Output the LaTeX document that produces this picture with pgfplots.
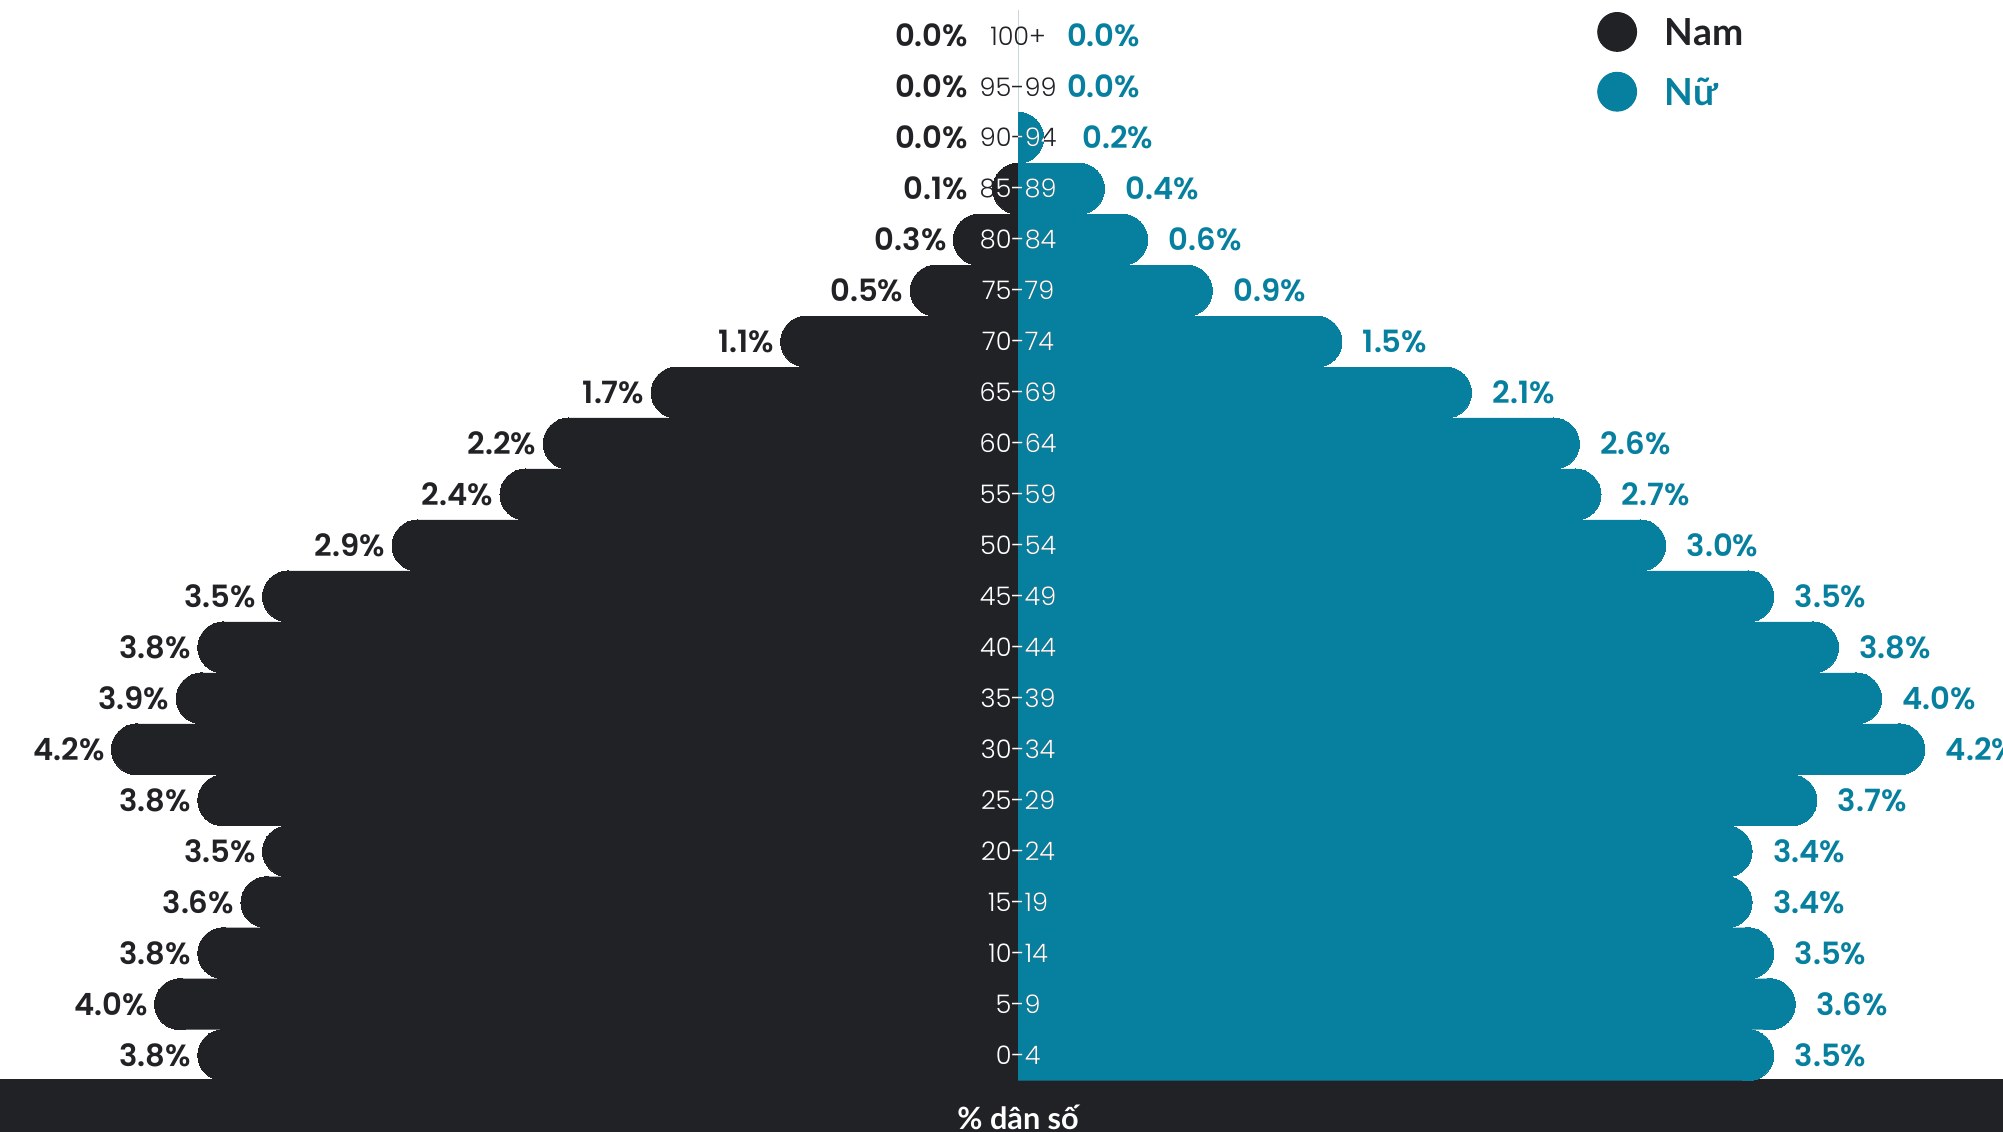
\documentclass[border=0pt]{standalone}
\usepackage{pgfplots}
\pgfplotsset{compat=1.18}
\usepackage{pgfplotstable}
\usepackage{fontspec}
\setmainfont{Poppins}
\newfontfamily\agefont{Poppins Light}
\newfontfamily\valfont{Poppins SemiBold}
\newfontfamily\labfont{Lato}
\definecolor{dark}{HTML}{212226}
\definecolor{nu}{HTML}{07809F}

\pgfplotstableread{
idx age m f
0 0-4 3.8 3.5
1 5-9 4.0 3.6
2 10-14 3.8 3.5
3 15-19 3.6 3.4
4 20-24 3.5 3.4
5 25-29 3.8 3.7
6 30-34 4.2 4.2
7 35-39 3.9 4.0
8 40-44 3.8 3.8
9 45-49 3.5 3.5
10 50-54 2.9 3.0
11 55-59 2.4 2.7
12 60-64 2.2 2.6
13 65-69 1.7 2.1
14 70-74 1.1 1.5
15 75-79 0.5 0.9
16 80-84 0.3 0.6
17 85-89 0.1 0.4
18 90-94 0.0 0.2
19 95-99 0.0 0.0
20 100+ 0.0 0.0
}\pop

\pgfplotsset{
  pyr/.style={
    x=84.5pt, y=19.95pt, ymin=-1.504, ymax=20.702,
    hide axis, clip=true, clip marker paths=true,
    /pgf/number format/assume math mode=true,
  },
  vallab/.style={
    nodes near coords={\pgfmathprintnumber[fixed,fixed zerofill,precision=1]{\pgfplotspointmeta}\%},
  },
}

\begin{document}
\begin{tikzpicture}
% ---------- male (left) ----------
\begin{axis}[pyr, name=M, xmin=-4.716, xmax=0, at={(0,0)}, anchor=south east]
\fill[dark] (axis cs:-4.716,-1.504) rectangle (axis cs:0,-0.47);
\addplot[forget plot, xbar, bar width=20pt, fill=dark, draw=none]
  table[x expr={\thisrow{m}<0.2366 ? 0 : 0.1183-\thisrow{m}}, y=idx]{\pop};
\addplot[forget plot, only marks, mark=*, mark size=10pt, color=dark,
  mark options={solid, fill=dark, draw=dark, line width=0pt}, skip coords between index={18}{21}]
  table[x expr={\thisrow{m}<0.2366 ? 0 : 0.1183-\thisrow{m}}, y=idx]{\pop};
\addplot[forget plot, draw=none, vallab, point meta=\thisrow{m},
  every node near coord/.append style={anchor=east, inner sep=0pt, xshift=-2.5pt, text=dark,
    font=\valfont\fontsize{12}{14}\selectfont}]
  table[x expr={\thisrow{m}<0.2 ? -0.2 : -\thisrow{m}}, y=idx]{\pop};
\end{axis}
% ---------- female (right) ----------
\begin{axis}[pyr, name=F, xmin=0, xmax=4.562, at={(0,0)}, anchor=south west,
  legend cell align=left,
  legend style={at={(axis cs:2.680,20.476)}, anchor=north west, draw=none, fill=none,
    inner sep=0pt, row sep=7.8pt, column sep=10.9pt,
    font=\labfont\bfseries\fontsize{14.6}{17}\selectfont,
    nodes={inner sep=0pt, text depth=0pt}}]
\fill[dark] (axis cs:0,-1.504) rectangle (axis cs:4.562,-0.47);
\addplot[forget plot, xbar, bar width=20pt, fill=nu, draw=none]
  table[x expr={\thisrow{f}<0.2366 ? 0 : \thisrow{f}-0.1183}, y=idx]{\pop};
\addplot[forget plot, only marks, mark=*, mark size=10pt, color=nu,
  mark options={solid, fill=nu, draw=nu, line width=0pt}, skip coords between index={19}{21}]
  table[x expr={\thisrow{f}<0.2366 ? 0 : \thisrow{f}-0.1183}, y=idx]{\pop};
\addplot[forget plot, draw=none, vallab, point meta=\thisrow{f},
  every node near coord/.append style={anchor=west, inner sep=0pt, xshift=8pt, text=nu,
    font=\valfont\fontsize{12}{14}\selectfont}]
  table[x expr={\thisrow{f}<0.13 ? 0.13 : \thisrow{f}}, y=idx]{\pop};
\coordinate (O) at (axis cs:0,0);
\addlegendimage{legend image code/.code={\fill[dark] (7.6pt,0pt) circle (7.6pt);}}
\addlegendentry{\textcolor{dark}{\bfseries Nam}}
\addlegendimage{legend image code/.code={\fill[nu] (7.6pt,0pt) circle (7.6pt);}}
\addlegendentry{\textcolor{nu}{\bfseries Nữ}}
\end{axis}
% ---------- age labels ----------
\foreach \lab [count=\i from 0] in {0-4,5-9,10-14,15-19,20-24,25-29,30-34,35-39,40-44,45-49,50-54,55-59,60-64,65-69,70-74,75-79,80-84,85-89,90-94,95-99,100+}
  \node[font=\agefont\fontsize{10}{12}\selectfont, text=dark] at ([yshift=\i*19.95pt]O) {\lab};
\begin{scope}
\clip ([shift={(-30pt,-9.975pt)}]O) rectangle ([shift={(30pt,329.175pt)}]O)
      ([shift={(-9.5pt,329.175pt)}]O) rectangle ([shift={(30pt,349.125pt)}]O)
      ([shift={(0pt,369.1pt)}]O) arc[start angle=90, end angle=-90, radius=10pt] -- cycle;
\foreach \lab [count=\i from 0] in {0-4,5-9,10-14,15-19,20-24,25-29,30-34,35-39,40-44,45-49,50-54,55-59,60-64,65-69,70-74,75-79,80-84,85-89,90-94,95-99,100+}
  \node[font=\agefont\fontsize{10}{12}\selectfont, text=white] at ([yshift=\i*19.95pt]O) {\lab};
\end{scope}
\node[text=white, font=\labfont\bfseries\fontsize{12}{14}\selectfont] at ([yshift=-24.26pt]O) {\% dân số};
\pgfresetboundingbox
\useasboundingbox (M.south west) rectangle (F.north east);
\end{tikzpicture}
\end{document}
